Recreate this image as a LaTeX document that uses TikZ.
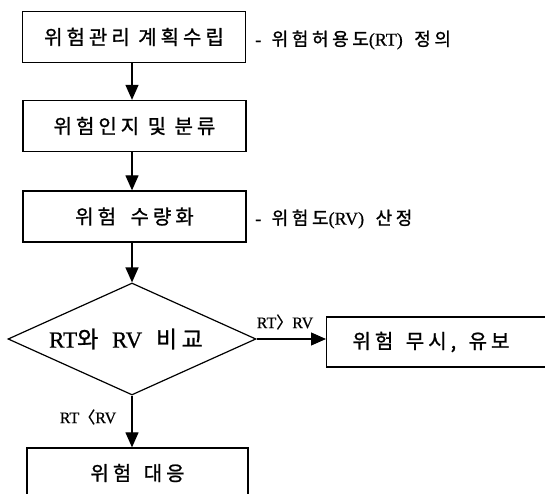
\documentclass[tikz,border=0pt]{standalone}
\usepackage{fontspec}
\setmainfont{Liberation Serif}[FakeBold=0.6]
\newfontfamily\cjk[LetterSpace=20,FakeBold=1.1]{Noto Sans CJK KR}
\usetikzlibrary{shapes.geometric,arrows.meta}
\begin{document}
\begin{tikzpicture}[x=1pt,y=-1pt,
 box/.style={draw,line width=1.3pt,minimum width=223pt,minimum height=51pt,inner sep=0pt,font=\fontsize{20}{23}\selectfont},
 arr/.style={line width=1.2pt,-{Triangle[length=15pt,width=13pt]}},
 note/.style={anchor=west,inner sep=0pt,font=\fontsize{18}{21}\selectfont},
 lbl/.style={inner sep=0pt,font=\fontsize{16}{18}\selectfont}]
\useasboundingbox[fill=white] (0,0) rectangle (545,494);
\begin{scope}
\clip (0,0) rectangle (545,494);
\node[box] (b1) at (134,37) {\cjk 위험관리 계획수립};
\node[box] (b2) at (134.5,126) {\cjk 위험인지 및 분류};
\node[box] (b3) at (134.5,216.5) {\cjk 위험\hspace{6pt} 수량화};
\node[draw,diamond,shape aspect=2.2,line width=1.2pt,minimum width=248pt,minimum height=112pt,inner sep=0pt] (d) at (132,339) {};
\node[inner sep=0pt,font=\fontsize{23}{27}\selectfont] (dt) at (126,339) {RT{\cjk 와}\hspace{8pt} RV\hspace{8pt} {\cjk 비교}};
\node[draw,line width=1.3pt,minimum width=240pt,minimum height=50pt,anchor=west,inner sep=0pt] (b5) at (326,342) {};
\node[inner sep=0pt,font=\fontsize{20}{23}\selectfont] (t5) at (431,342) {\cjk 위험\hspace{4pt} 무시,\hspace{4pt} 유보};
\node[box,minimum width=221pt,minimum height=50pt] (b6) at (137.5,473) {\cjk 위험\hspace{4pt} 대응};
\node[note] (n1) at (255,40) {-\hspace{6pt} {\cjk 위험허용도}(RT)\hspace{7pt} {\cjk 정의}};
\node[note] (n2) at (255,219) {-\hspace{6pt} {\cjk 위험도}(RV)\hspace{7pt} {\cjk 산정}};
\node[lbl] (l1) at (285,322) {RT{\cjk 〉}RV};
\node[lbl] (l2) at (88,417) {RT{\cjk 〈}RV};
\draw[arr] (b1.south -| d.north) -- (b2.north -| d.north);
\draw[arr] (b2.south -| d.north) -- (b3.north -| d.north);
\draw[arr] (b3.south -| d.north) -- (d.north);
\draw[arr] (d.east) -- (d.east -| b5.west);
\draw[arr] (d.south) -- (d.south |- b6.north);
\end{scope}
\end{tikzpicture}
\end{document}
